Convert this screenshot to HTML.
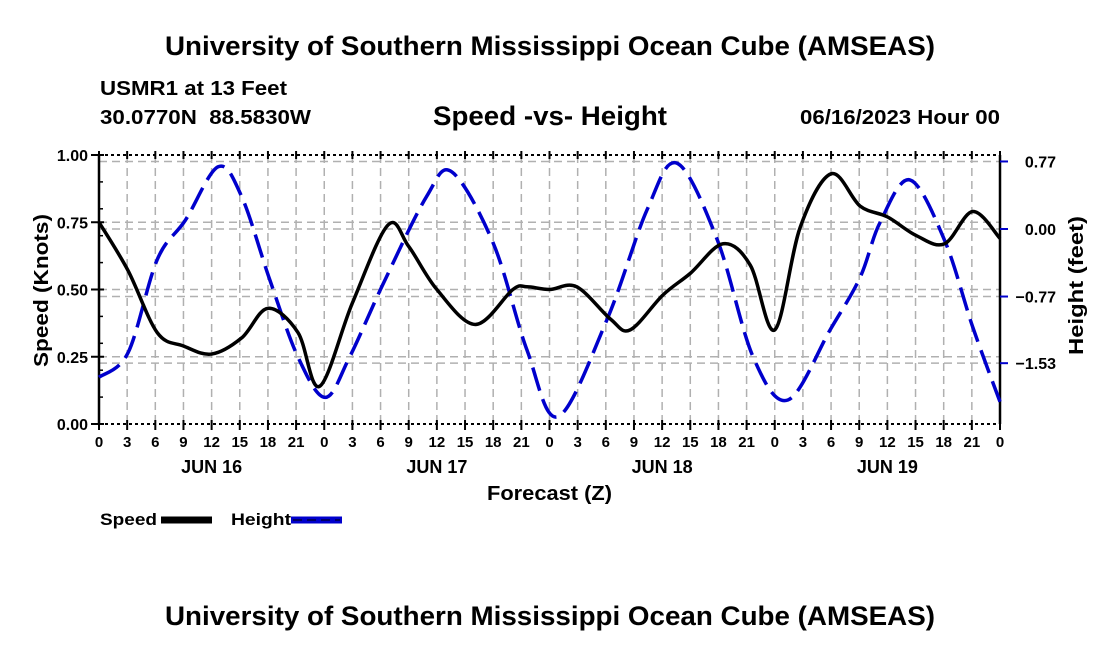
<!DOCTYPE html>
<html><head><meta charset="utf-8"><style>
body{margin:0;background:#fff}
svg{font-family:"Liberation Sans",Arial,sans-serif;font-weight:bold}
</style></head><body>
<svg id="c" width="1100" height="650" viewBox="0 0 1100 650">
<text x="165" y="55" font-size="27" textLength="770" lengthAdjust="spacingAndGlyphs">University of Southern Mississippi Ocean Cube (AMSEAS)</text>
<text x="100" y="95" font-size="20" textLength="187" lengthAdjust="spacingAndGlyphs">USMR1 at 13 Feet</text>
<text x="100" y="124" font-size="20" textLength="211" lengthAdjust="spacingAndGlyphs" xml:space="preserve">30.0770N  88.5830W</text>
<text x="433" y="125" font-size="27" textLength="234" lengthAdjust="spacingAndGlyphs">Speed -vs- Height</text>
<text x="800" y="124" font-size="20" textLength="200" lengthAdjust="spacingAndGlyphs">06/16/2023 Hour 00</text>
<text x="487" y="500" font-size="20" textLength="125" lengthAdjust="spacingAndGlyphs">Forecast (Z)</text>
<text transform="translate(48,367) rotate(-90)" font-size="20" textLength="153" lengthAdjust="spacingAndGlyphs">Speed (Knots)</text>
<text transform="translate(1083,355) rotate(-90)" font-size="20" textLength="139" lengthAdjust="spacingAndGlyphs">Height (feet)</text>
<g>
<text x="100" y="525" font-size="17" textLength="57" lengthAdjust="spacingAndGlyphs">Speed</text>
<line x1="161" y1="520" x2="212" y2="520" stroke="#000" stroke-width="7"/>
<text x="231" y="525" font-size="17" textLength="60" lengthAdjust="spacingAndGlyphs">Height</text>
<line x1="291" y1="520" x2="342" y2="520" stroke="#0000cc" stroke-width="7"/>
<line x1="293" y1="520" x2="340" y2="520" stroke="#000066" stroke-width="2" stroke-dasharray="9,5"/>
</g>
<text x="165" y="625" font-size="27" textLength="770" lengthAdjust="spacingAndGlyphs">University of Southern Mississippi Ocean Cube (AMSEAS)</text>
<g id="plot"></g>
</svg>
<script>
const speedHours=[0,3.1,6.2,9,12,15.2,18,21.2,23.5,27,30.8,33,36,40.1,44.1,45.6,48,50.9,54.5,56.6,60.1,63,66.5,69.4,72,74.7,78,81.1,84,87.1,90.1,93.1,96];
const speedValues=[0.75,0.57,0.34,0.29,0.26,0.32,0.43,0.34,0.14,0.45,0.74,0.66,0.50,0.37,0.50,0.51,0.50,0.51,0.39,0.35,0.48,0.56,0.67,0.59,0.35,0.73,0.93,0.81,0.77,0.70,0.67,0.79,0.69];
const heightHours=[0,3.1,6.2,9.2,12.7,15.2,18.2,21.2,24.1,26.7,30.3,34.9,37.6,42,45.6,48.9,54.1,58.4,61.6,65.9,69.7,73.4,77.9,81.1,83.2,86.4,90.1,93.1,96];
const heightValues=[-1.69,-1.41,-0.35,0.1,0.71,0.37,-0.58,-1.46,-1.92,-1.46,-0.62,0.37,0.65,-0.16,-1.38,-2.14,-1.04,0.22,0.75,-0.13,-1.46,-1.95,-1.15,-0.55,0.07,0.56,-0.13,-1.12,-1.97];
const speedTicks=[0,0.25,0.5,0.75,1.0];
const speedTickLabels=["0.00","0.25","0.50","0.75","1.00"];
const heightTicks=[0.77,0,-0.77,-1.53];
const heightTickLabels=["0.77","0.00","\u22120.77","\u22121.53"];
const hourTickLabels=["0","3","6","9","12","15","18","21"];
const dayLabels=["JUN 16","JUN 17","JUN 18","JUN 19"];

const L=99,R=1000,T=155,B=424;
const xs=h=>L+h*(R-L)/96;
const ys=s=>B-s*(B-T);
const yh=v=>229-v*87.7;
const NS="http://www.w3.org/2000/svg";
const g=document.getElementById('plot');
function mk(t,a){const e=document.createElementNS(NS,t);for(const k in a)e.setAttribute(k,a[k]);g.appendChild(e);return e;}
for(let h=3;h<96;h+=3){const e=mk('line',{x1:xs(h),x2:xs(h),y1:T,y2:B,stroke:'#b0b0b0','stroke-width':1.5,'stroke-dasharray':'8,5'});

}
speedTicks.forEach(s=>{if(s>0&&s<1){const e=mk('line',{x1:L,x2:R,y1:ys(s),y2:ys(s),stroke:'#b0b0b0','stroke-width':1.5,'stroke-dasharray':'8,5'});

}});
heightTicks.forEach(v=>{const e=mk('line',{x1:L,x2:R,y1:yh(v),y2:yh(v),stroke:'#b0b0b0','stroke-width':1.5,'stroke-dasharray':'8,5'});

});
const fr=mk('path',{d:`M${L},${T}V${B}M${R},${T}V${B}`,stroke:'#000','stroke-width':2.5,fill:'none'});


const tb=mk('path',{d:`M${L},${T}H${R}M${L},${B}H${R}`,stroke:'#000','stroke-width':2,'stroke-dasharray':'3,3',fill:'none'});


for(let h=0;h<=96;h+=3){
 const e=mk('line',{x1:xs(h),x2:xs(h),y1:B-4,y2:B+6,stroke:'#000','stroke-width':2});
 
 
 const e2=mk('line',{x1:xs(h),x2:xs(h),y1:T+4,y2:T-4,stroke:'#000','stroke-width':2});
 
 
 const t=mk('text',{x:xs(h),y:447,'text-anchor':'middle','font-size':15});
 t.textContent=h===96?"0":hourTickLabels[(h%24)/3];
 
 
}
dayLabels.forEach((d,i)=>{const t=mk('text',{x:xs(12+24*i),y:473,'text-anchor':'middle','font-size':18});t.textContent=d;

});
speedTicks.forEach((s,i)=>{const e=mk('line',{x1:L-8,x2:L+5,y1:ys(s),y2:ys(s),stroke:'#000','stroke-width':2});


const t=mk('text',{x:L-11,y:ys(s)+6,'text-anchor':'end','font-size':16});t.textContent=speedTickLabels[i];

});
for(let s=0.1;s<1;s+=0.1){const e=mk('line',{x1:L,x2:L+4,y1:ys(s),y2:ys(s),stroke:'#000','stroke-width':1.5});

}
heightTicks.forEach((v,i)=>{const e=mk('line',{x1:R,x2:R+8,y1:yh(v),y2:yh(v),stroke:'#0000cc','stroke-width':2});


const t=mk('text',{x:R+56,y:yh(v)+6,'text-anchor':'end','font-size':16});t.textContent=heightTickLabels[i];

});
function smooth(pts){let d=`M${pts[0][0]},${pts[0][1]}`;
 for(let i=0;i<pts.length-1;i++){const p0=pts[Math.max(0,i-1)],p1=pts[i],p2=pts[i+1],p3=pts[Math.min(pts.length-1,i+2)];
 const c1=[p1[0]+(p2[0]-p0[0])/6,p1[1]+(p2[1]-p0[1])/6],c2=[p2[0]-(p3[0]-p1[0])/6,p2[1]-(p3[1]-p1[1])/6];
 d+=`C${c1[0]},${c1[1]} ${c2[0]},${c2[1]} ${p2[0]},${p2[1]}`;}return d;}
const hp=mk('path',{d:smooth(heightHours.map((h,i)=>[xs(h),yh(heightValues[i])])),stroke:'#0000cc','stroke-width':3.5,fill:'none','stroke-dasharray':'24,9'});


const sp=mk('path',{d:smooth(speedHours.map((h,i)=>[xs(h),ys(speedValues[i])])),stroke:'#000','stroke-width':3.5,fill:'none'});


</script>
</body></html>
